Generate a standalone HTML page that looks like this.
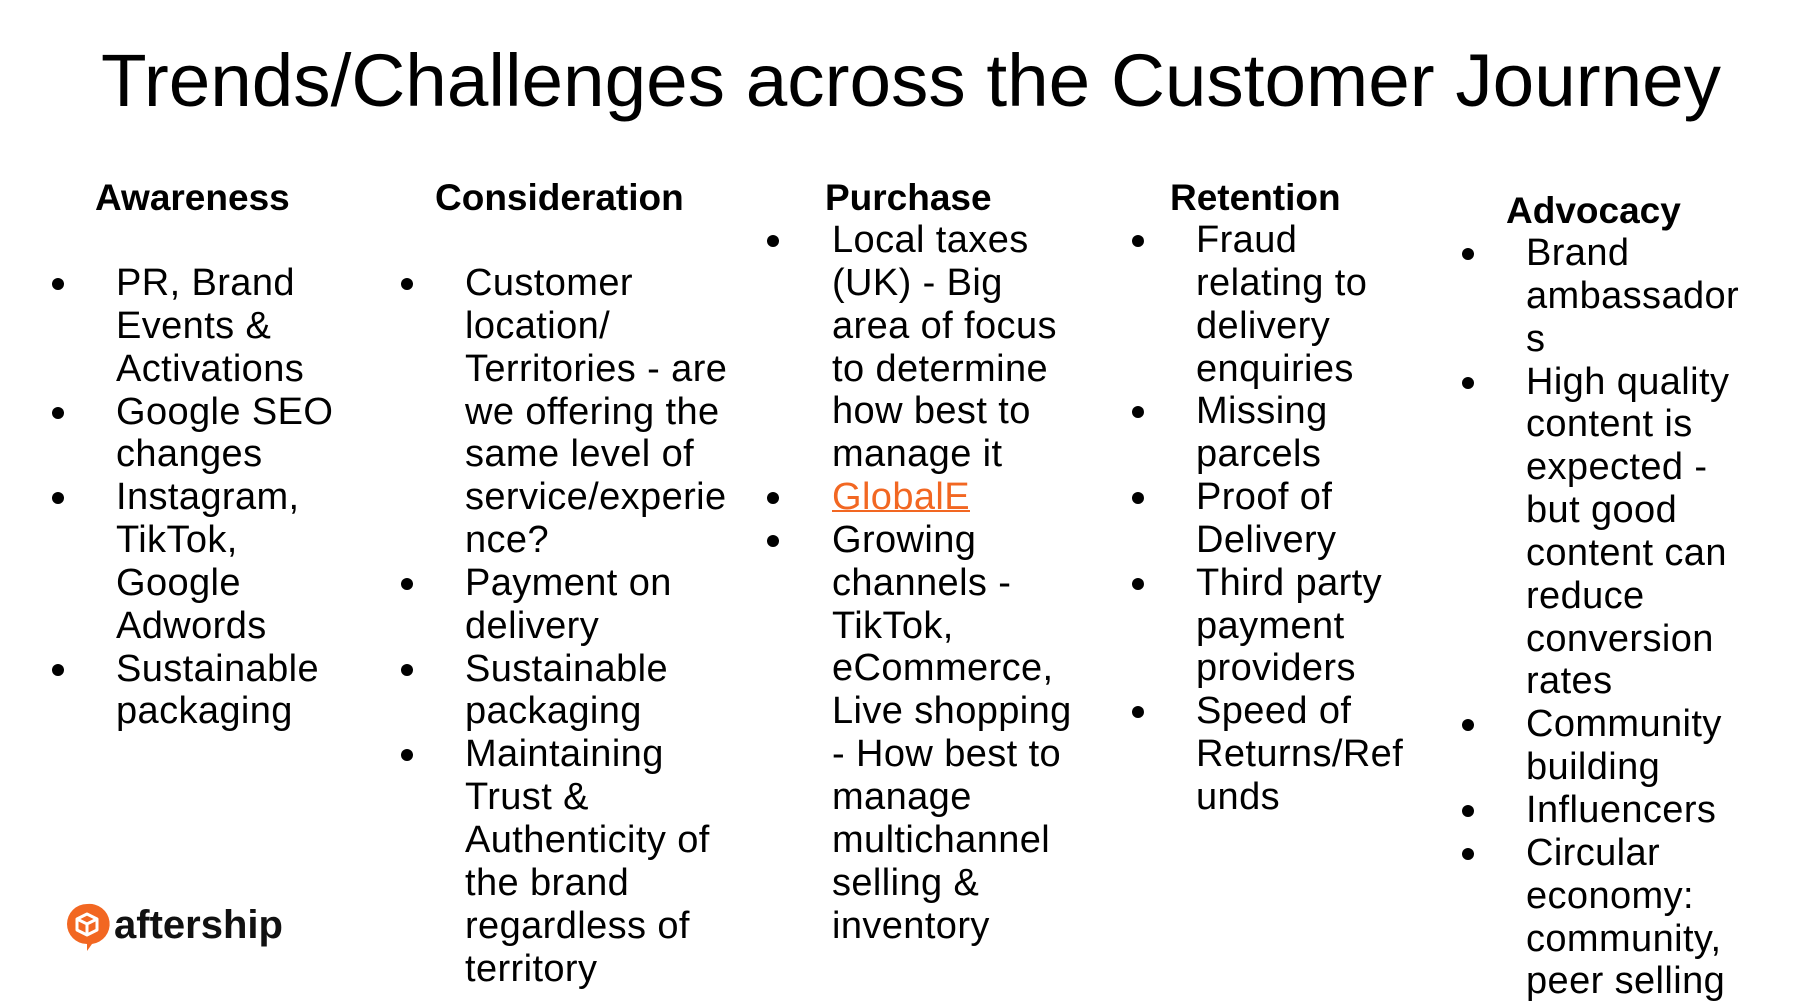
<!DOCTYPE html>
<html><head><meta charset="utf-8"><style>
html,body{margin:0;padding:0;background:#fff;}
body{width:1798px;height:1008px;position:relative;overflow:hidden;font-family:"Liberation Sans",sans-serif;color:#000;}
.h{position:absolute;font-weight:bold;font-size:37px;line-height:43px;}
.col{position:absolute;font-size:38px;line-height:42.85px;letter-spacing:0.4px;white-space:nowrap;}
.col div{position:relative;height:42.85px;}
.b::before{content:"";position:absolute;width:12px;height:12px;border-radius:50%;background:#000;top:16px;left:var(--bl);}
a{color:#F26722;text-decoration:underline;text-decoration-thickness:2px;}
</style></head><body>
<svg width="1798" height="140" style="position:absolute;left:0;top:0">
<text x="101" y="106" font-family="Liberation Sans" font-size="74" textLength="1620" lengthAdjust="spacingAndGlyphs">Trends/Challenges across the Customer Journey</text>
</svg>

<div class="h" style="left:95px;top:176px">Awareness</div>
<div class="h" style="left:435px;top:176px">Consideration</div>
<div class="h" style="left:825px;top:176px">Purchase</div>
<div class="h" style="left:1170px;top:176px">Retention</div>
<div class="h" style="left:1506px;top:189px">Advocacy</div>

<div class="col" style="left:116px;top:262px;--bl:-64px">
<div class="b">PR, Brand</div><div>Events &amp;</div><div>Activations</div>
<div class="b">Google SEO</div><div>changes</div>
<div class="b">Instagram,</div><div>TikTok,</div><div>Google</div><div>Adwords</div>
<div class="b">Sustainable</div><div>packaging</div>
</div>

<div class="col" style="left:465px;top:262px;--bl:-64px">
<div class="b">Customer</div><div>location/</div><div>Territories - are</div><div>we offering the</div><div>same level of</div><div>service/experie</div><div>nce?</div>
<div class="b">Payment on</div><div>delivery</div>
<div class="b">Sustainable</div><div>packaging</div>
<div class="b">Maintaining</div><div>Trust &amp;</div><div>Authenticity of</div><div>the brand</div><div>regardless of</div><div>territory</div>
</div>

<div class="col" style="left:832px;top:219px;--bl:-65px">
<div class="b">Local taxes</div><div>(UK) - Big</div><div>area of focus</div><div>to determine</div><div>how best to</div><div>manage it</div>
<div class="b"><a>GlobalE</a></div>
<div class="b">Growing</div><div>channels -</div><div>TikTok,</div><div>eCommerce,</div><div>Live shopping</div><div>- How best to</div><div>manage</div><div>multichannel</div><div>selling &amp;</div><div>inventory</div>
</div>

<div class="col" style="left:1196px;top:219px;--bl:-64px">
<div class="b">Fraud</div><div>relating to</div><div>delivery</div><div>enquiries</div>
<div class="b">Missing</div><div>parcels</div>
<div class="b">Proof of</div><div>Delivery</div>
<div class="b">Third party</div><div>payment</div><div>providers</div>
<div class="b">Speed of</div><div>Returns/Ref</div><div>unds</div>
</div>

<div class="col" style="left:1526px;top:232px;--bl:-64px">
<div class="b">Brand</div><div>ambassador</div><div>s</div>
<div class="b">High quality</div><div>content is</div><div>expected -</div><div>but good</div><div>content can</div><div>reduce</div><div>conversion</div><div>rates</div>
<div class="b">Community</div><div>building</div>
<div class="b">Influencers</div>
<div class="b">Circular</div><div>economy:</div><div>community,</div><div>peer selling</div>
</div>

<svg width="60" height="60" style="position:absolute;left:57px;top:897px" viewBox="0 0 60 60">
<path d="M30 7a20 20 0 1 0 0 40l0 0 l0 7 l5-7a20 20 0 0 0 -5-40z" fill="#F26722"/>
<path d="M30 17l10 5v11l-10 5l-10-5v-11z" fill="none" stroke="#fff" stroke-width="3" stroke-linejoin="round"/>
<path d="M20 22l10 5l10-5M30 27v11" fill="none" stroke="#fff" stroke-width="3"/>
</svg>
<div style="position:absolute;left:114px;top:902px;font-weight:bold;font-size:40px;line-height:46px;color:#111">aftership</div>
</body></html>
